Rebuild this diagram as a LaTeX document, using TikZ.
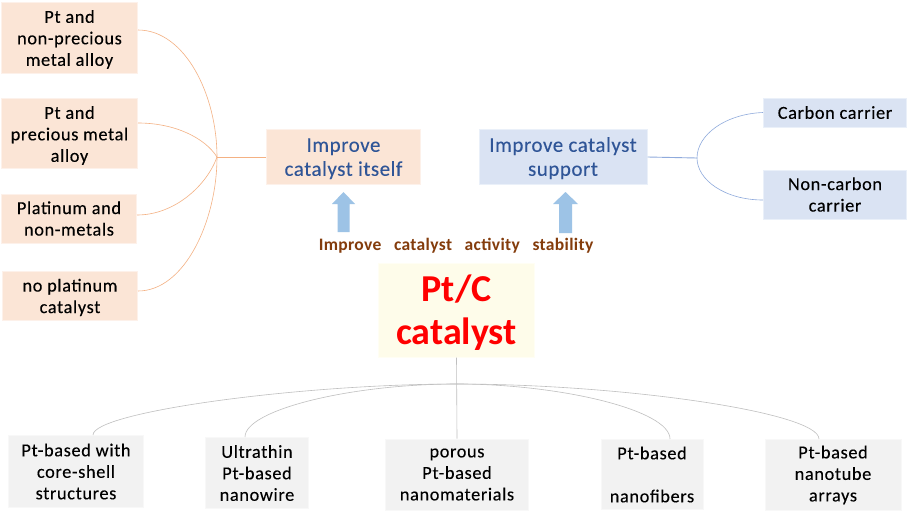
\documentclass[tikz,border=0pt]{standalone}
\usepackage{fontspec}
\setmainfont{Carlito}
\newfontfamily\bodyf[LetterSpace=3.5,FakeBold=0.2]{Carlito}
\newfontfamily\headf[LetterSpace=2.5,FakeBold=0.1]{Carlito}
\newfontfamily\labf[LetterSpace=2]{Carlito}
\newcommand{\lowtext}[2]{\raisebox{0pt}[\dimexpr\height+2\dimexpr#1pt\relax\relax][\depth]{\begin{tabular}{@{}c@{}}#2\end{tabular}}}
\definecolor{peach}{HTML}{FBE5D6}
\definecolor{peachb}{HTML}{FDF1EA}
\definecolor{bluef}{HTML}{DAE3F3}
\definecolor{blueb}{HTML}{EAF0F9}
\definecolor{grayf}{HTML}{F2F2F2}
\definecolor{creamf}{HTML}{FEFCEA}
\definecolor{peachline}{HTML}{F4B183}
\definecolor{blueline}{HTML}{8FAADC}
\definecolor{grayline}{HTML}{BFBFBF}
\definecolor{navytext}{HTML}{2F5597}
\definecolor{browntext}{HTML}{843C0C}
\definecolor{arrowblue}{HTML}{9DC3E6}
\tikzset{
  x=1pt,y=-1pt,
  boxbase/.style={anchor=center,align=center,inner sep=0pt,line width=1pt,font=\fontsize{18.3}{21.5}\selectfont\bodyf},
  pbox/.style={boxbase,fill=peach,draw=peachb},
  bbox/.style={boxbase,fill=bluef,draw=blueb},
  gbox/.style={boxbase,fill=grayf,draw=grayf!50!white},
  peachc/.style={draw=peachline,line width=.6pt},
  peachs/.style={draw=peachline,line width=1pt},
  bluec/.style={draw=blueline,line width=.6pt},
  blues/.style={draw=blueline,line width=.9pt},
  grayc/.style={draw=grayline,line width=.6pt},
  upar/.style={draw=none,fill=arrowblue},
  headtext/.style={text=navytext,font=\fontsize{21}{24}\selectfont\headf}
}
\begin{document}
\begin{tikzpicture}
\useasboundingbox (0,0) rectangle (907,517);
\fill[white] (0,0) rectangle (907,517);
% left boxes
\node[pbox,minimum width=136pt,minimum height=71pt] (a1) at (69.5,37.5) {\lowtext{2.5}{Pt and\\non-precious\\metal alloy}};
\node[pbox,minimum width=136pt,minimum height=70pt] (a2) at (69.5,133.5) {\lowtext{2.5}{Pt and\\precious metal\\alloy}};
\node[pbox,minimum width=135pt,minimum height=49pt] (a3) at (69,218.5) {Platinum and\\non-metals};
\node[pbox,minimum width=135pt,minimum height=49pt] (a4) at (70,295.5) {\lowtext{2.5}{no platinum\\catalyst}};
\node[pbox,headtext,minimum width=154pt,minimum height=55pt] (imp) at (343.5,157) {\lowtext{2}{Improve\\catalyst itself}};
\node[bbox,headtext,minimum width=168pt,minimum height=55pt] (sup) at (563,157) {\lowtext{2}{Improve catalyst\\support}};
\node[bbox,minimum width=143pt,minimum height=29pt] (c1) at (835,112.5) {Carbon carrier};
\node[bbox,minimum width=143pt,minimum height=49pt] (c2) at (835,194.5) {Non-carbon\\carrier};
\node[boxbase,fill=creamf,draw=creamf!50!white,text=red,font=\fontsize{38}{43}\selectfont\bfseries,minimum width=156pt,minimum height=91pt] (pt) at (456.5,310) {\lowtext{4}{Pt/C\\catalyst}};
\node[anchor=center,text=browntext,font=\fontsize{17.5}{20}\selectfont\labf\bfseries] (lab) at (456,245.5) {Improve\hspace{.72em}catalyst\hspace{.72em}activity\hspace{.72em}stability};
% bottom
\node[gbox,minimum width=135pt,minimum height=72pt] (g1) at (76,471.5) {Pt-based with\\core-shell\\structures};
\node[gbox,minimum width=103pt,minimum height=71pt] (g2) at (257,473) {Ultrathin\\Pt-based\\nanowire};
\node[gbox,minimum width=143pt,minimum height=71pt] (g3) at (457,474.5) {porous\\Pt-based\\nanomaterials};
\node[gbox,minimum width=102pt,minimum height=70pt] (g4) at (652,474.5) {Pt-based\\\mbox{}\\nanofibers};
\node[gbox,minimum width=136pt,minimum height=71pt] (g5) at (833,475) {Pt-based\\nanotube\\arrays};
% junctions
\coordinate (jl) at (217,157);
\coordinate (jr) at (697,158);
\coordinate (jb) at (457,384);
% peach connectors
\draw[peachs] (imp.west) -- (jl);
\draw[peachc] (a1.east |- 0,30) .. controls (185,30) and (217,95) .. (jl);
\draw[peachc] (a2.east |- 0,123) .. controls (175,123) and (205,138) .. (jl);
\draw[peachc] (a3.east |- 0,215) .. controls (175,215) and (207,185) .. (jl);
\draw[peachc] (a4.east |- 0,291) .. controls (185,291) and (217,220) .. (jl);
% blue
\draw[blues] (sup.east) -- (jr);
\draw[bluec] (c1.west) .. controls (725,114) and (697,135) .. (jr);
\draw[bluec] (c2.west |- 0,200) .. controls (725,200) and (697,180) .. (jr);
% gray
\draw[grayc] (pt.south) -- (g3.north);
\draw[grayc] (g1.north -| 93,0) .. controls (93,412) and (300,384) .. (jb);
\draw[grayc] (g2.north -| 245,0) .. controls (245,410) and (350,384) .. (jb);
\draw[grayc] (g4.north -| 670,0) .. controls (670,410) and (560,384) .. (jb);
\draw[grayc] (g5.north -| 819,0) .. controls (819,412) and (620,384) .. (jb);
% arrows
\fill[upar] (343.5,192) -- (355,204) -- (349.5,204) -- (349.5,232) -- (337.5,232) -- (337.5,204) -- (332,204) -- cycle;
\fill[upar] (565.5,192) -- (578,204) -- (572,204) -- (572,233) -- (559,233) -- (559,204) -- (553,204) -- cycle;
\end{tikzpicture}
\end{document}
